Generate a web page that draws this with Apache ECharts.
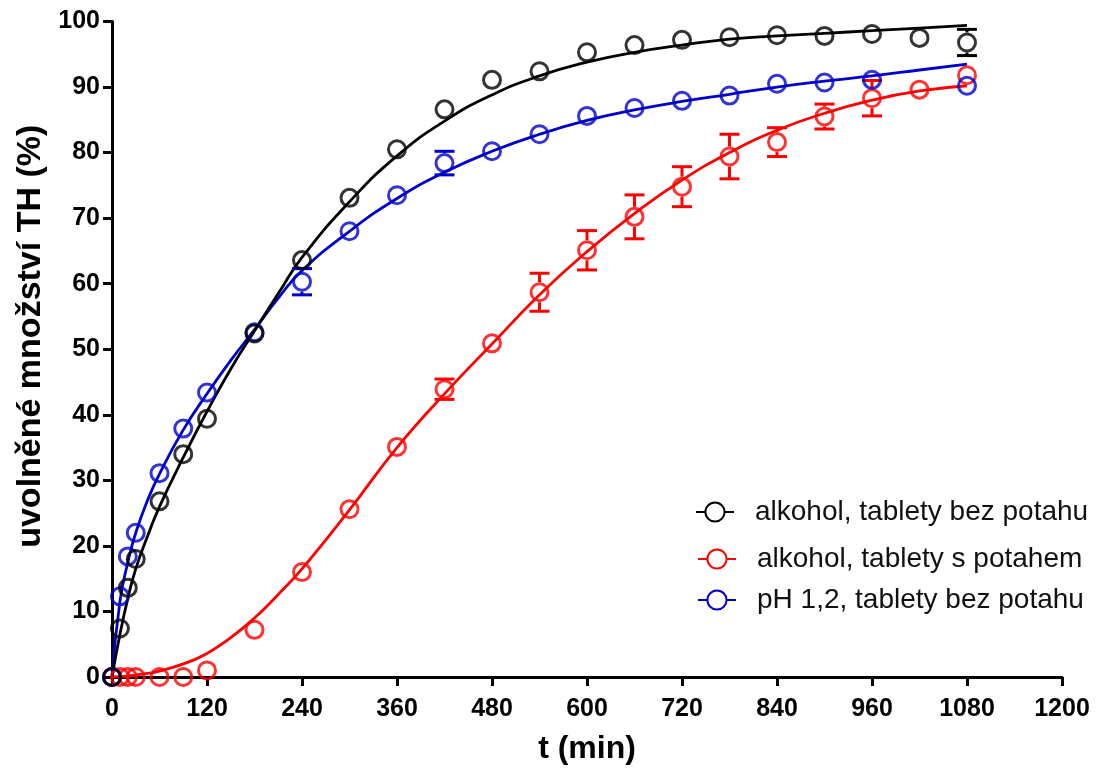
<!DOCTYPE html>
<html>
<head>
<meta charset="utf-8">
<script src="https://cdn.jsdelivr.net/npm/echarts@6/dist/echarts.min.js"></script>
<style>
  html, body { margin: 0; padding: 0; background: #fff; }
  #chart { width: 1107px; height: 771px; }
</style>
</head>
<body>
<div id="chart"></div>
<script>
const names = ['alkohol, tablety bez potahu', 'alkohol, tablety s potahem', 'pH 1,2, tablety bez potahu']
const colors = ['#000000', '#ff0000', '#0000cc']

// naměřené body (t v min, %)
const times = [0, 10, 20, 30, 60, 90, 120, 180, 240, 300, 360, 420, 480, 540, 600, 660, 720, 780, 840, 900, 960, 1020, 1080]
const blackVals = [0, 7.4, 13.6, 18.0, 26.8, 34.0, 39.4, 52.4, 63.6, 73.1, 80.5, 86.6, 91.1, 92.4, 95.3, 96.4, 97.2, 97.6, 97.9, 97.8, 98.1, 97.5, 96.8]
const blackSd = [0, 0, 0, 0, 0, 0, 0, 0, 0, 0, 0, 0, 0, 0, 0, 0, 0, 0, 0, 0, 0, 0, 2.0]
const redVals = [0, 0, 0, 0, 0, 0, 1.0, 7.2, 16.0, 25.6, 35.1, 43.9, 50.9, 58.7, 65.1, 70.2, 74.8, 79.4, 81.6, 85.5, 88.3, 89.6, 91.8]
const redSd = [0, 0, 0, 0, 0, 0, 0, 0, 0, 0, 0, 1.55, 0, 2.9, 3.0, 3.35, 3.05, 3.4, 2.2, 1.9, 2.7, 0, 0]
const blueTimes = [0, 10, 20, 30, 60, 90, 120, 180, 240, 300, 360, 420, 480, 540, 600, 660, 720, 780, 840, 900, 960, 1080]
const blueVals = [0, 12.3, 18.4, 22.0, 31.1, 37.9, 43.4, 52.6, 60.3, 68.0, 73.5, 78.4, 80.2, 82.8, 85.6, 86.8, 87.9, 88.7, 90.5, 90.7, 91.1, 90.2]
const blueSd = [0, 0, 0, 0, 0, 0, 1.3, 0, 2.0, 0, 1.2, 1.8, 0, 0, 0, 0, 0, 0, 0, 0, 0, 0]

// proložené křivky
const fitTimes = [0, 10, 20, 30, 45, 60, 90, 120, 150, 180, 210, 240, 300, 360, 420, 480, 540, 600, 660, 720, 780, 840, 900, 960, 1020, 1080]
const blackFit = [0, 6.5, 12, 16.5, 21.5, 26, 33.5, 40.5, 47, 52.8, 58.5, 64, 72.5, 79.5, 84.8, 88.8, 91.7, 93.8, 95.3, 96.4, 97.3, 97.8, 98.2, 98.6, 99.0, 99.4]
const redFit = [0, 0.05, 0.15, 0.3, 0.55, 0.9, 2.0, 3.6, 6.0, 9.0, 12.6, 16.5, 25.5, 35, 43.2, 50.8, 58.3, 64.9, 70.7, 75.8, 80.0, 83.4, 86.0, 88.0, 89.4, 90.2]
const blueFit = [0, 11.5, 17.5, 22, 27, 31, 37.7, 43.2, 48.3, 53, 57.8, 62, 68, 73, 77, 80.2, 82.8, 84.9, 86.5, 87.8, 88.9, 90.0, 90.9, 91.7, 92.6, 93.5]

const xTicks = [0, 120, 240, 360, 480, 600, 720, 840, 960, 1080, 1200]

const zip = (xs, ys) => xs.map((x, i) => [x, ys[i]])
const zip3 = (xs, ys, es) => xs.map((x, i) => [x, ys[i], es[i]]).filter(d => d[2] > 0)

function errRender(color) {
  return function (params, api) {
    const x = api.value(0), y = api.value(1), e = api.value(2)
    const top = api.coord([x, y + e])
    const mid = api.coord([x, y])
    const bot = api.coord([x, y - e])
    const r = 10, w = 10
    const style = { stroke: color, lineWidth: 3 }
    const ch = []
    if (mid[1] - top[1] > r) {
      ch.push({ type: 'line', shape: { x1: mid[0], y1: top[1], x2: mid[0], y2: mid[1] - r }, style })
      ch.push({ type: 'line', shape: { x1: mid[0] - w, y1: top[1], x2: mid[0] + w, y2: top[1] }, style })
    }
    if (bot[1] - mid[1] > r) {
      ch.push({ type: 'line', shape: { x1: mid[0], y1: mid[1] + r, x2: mid[0], y2: bot[1] }, style })
      ch.push({ type: 'line', shape: { x1: mid[0] - w, y1: bot[1], x2: mid[0] + w, y2: bot[1] }, style })
    }
    return { type: 'group', children: ch }
  }
}

const points = [zip(times, blackVals), zip(times, redVals), zip(blueTimes, blueVals)]
const errs = [zip3(times, blackVals, blackSd), zip3(times, redVals, redSd), zip3(blueTimes, blueVals, blueSd)]
const fits = [zip(fitTimes, blackFit), zip(fitTimes, redFit), zip(fitTimes, blueFit)]

const series = []
const order = [1, 2, 0]
order.forEach(i => {
  series.push({
    name: names[i],
    type: 'line',
    data: fits[i],
    smooth: 0.5,
    symbol: 'emptyCircle',
    showSymbol: false,
    lineStyle: { color: colors[i], width: 2.8 },
    itemStyle: { color: colors[i] },
    z: 2,
    silent: true
  })
  series.push({
    type: 'custom',
    data: errs[i],
    renderItem: errRender(colors[i]),
    z: 3,
    silent: true
  })
  series.push({
    type: 'scatter',
    data: points[i],
    symbol: 'circle',
    symbolSize: 17,
    itemStyle: { color: 'rgba(0,0,0,0)', borderColor: colors[i], borderWidth: 3 },
    z: 4,
    silent: true
  })
})

const legendLeft = [695, 697, 697]
const legendTop = [498, 545, 586]

const chart = echarts.init(document.getElementById('chart'))
chart.setOption({
  animation: false,
  grid: { left: 112, right: 45, top: 21.5, bottom: 94 },
  legend: names.map((n, i) => ({
    data: [n],
    left: legendLeft[i],
    top: legendTop[i],
    padding: 0,
    itemWidth: 38,
    itemHeight: 24,
    selectedMode: false,
    textStyle: { fontSize: 28, fontFamily: 'Liberation Sans, Arial', color: '#111', padding: [0, 0, 0, 16] }
  })),
  xAxis: {
    type: 'value',
    min: 0,
    max: 1200,
    interval: 120,
    name: 't (min)',
    nameLocation: 'middle',
    nameGap: 56,
    nameTextStyle: { fontSize: 32, fontWeight: 'bold', fontFamily: 'Liberation Sans, Arial', color: '#000' },
    axisLine: { lineStyle: { color: '#000', width: 3 } },
    axisTick: { length: 9, lineStyle: { color: '#000', width: 3 } },
    axisLabel: {
      margin: 20,
      fontSize: 25,
      fontWeight: 'bold',
      fontFamily: 'Liberation Sans, Arial',
      color: '#000',
      formatter: v => xTicks.includes(v) ? String(v) : ''
    },
    splitLine: { show: false }
  },
  yAxis: {
    type: 'value',
    min: 0,
    max: 100,
    interval: 10,
    name: 'uvolněné množství TH (%)',
    nameLocation: 'middle',
    nameGap: 64,
    nameTextStyle: { fontSize: 34, fontWeight: 'bold', fontFamily: 'Liberation Sans, Arial', color: '#000', padding: [0, 0, 0, 26] },
    axisLine: { show: true, lineStyle: { color: '#000', width: 3 } },
    axisTick: { show: true, length: 9, lineStyle: { color: '#000', width: 3 } },
    axisLabel: { margin: 12, fontSize: 25, fontWeight: 'bold', fontFamily: 'Liberation Sans, Arial', color: '#000' },
    splitLine: { show: false }
  },
  series: series
})
</script>
</body>
</html>
